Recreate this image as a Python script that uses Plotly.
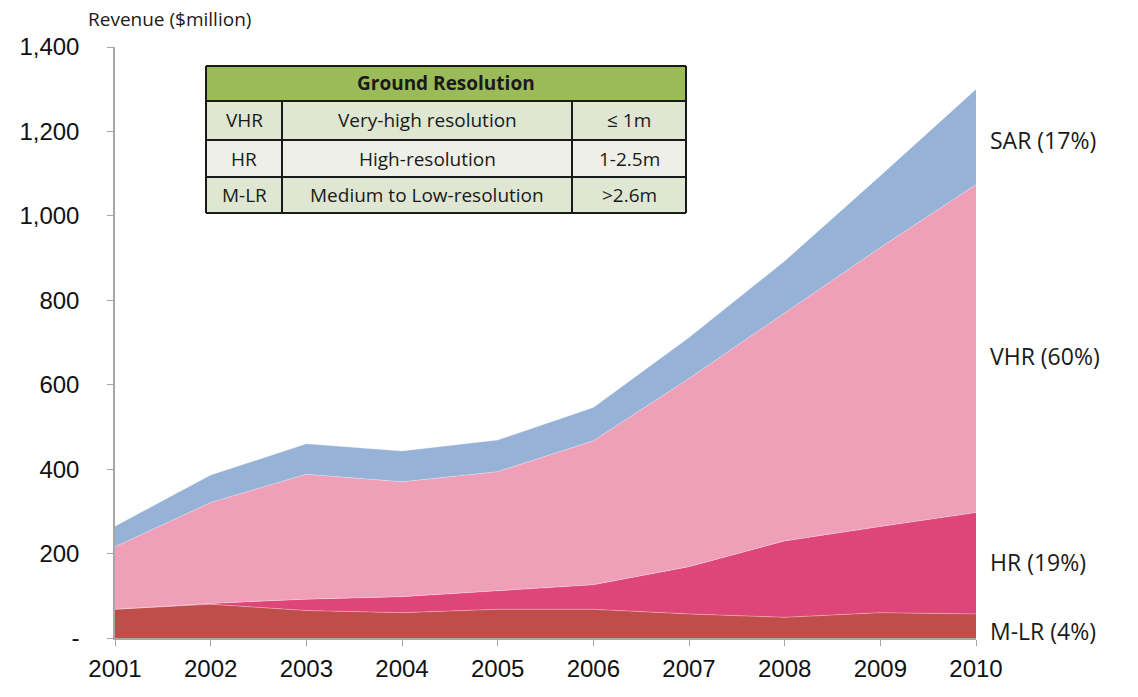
import plotly.graph_objects as go

years = [2001, 2002, 2003, 2004, 2005, 2006, 2007, 2008, 2009, 2010]
mlr = [68, 80, 65, 60, 68, 68, 57, 49, 60, 57]
hr = [0, 2, 27, 38, 44, 58, 112, 181, 204, 240]
vhr = [148, 239, 296, 272, 282, 341, 446, 540, 661, 777]
sar = [49, 65, 72, 73, 75, 79, 97, 123, 170, 226]

series_names = ["M-LR", "HR", "VHR", "SAR"]
series_vals = [mlr, hr, vhr, sar]
colors = ["#BF4E4B", "#DE4578", "#EF9FB8", "#96B2D6"]
end_labels = ["M-LR (4%)", "HR (19%)", "VHR (60%)", "SAR (17%)"]
label_y = [17, 180, 668, 1180]

yticks = [0, 200, 400, 600, 800, 1000, 1200, 1400]
yticktext = ["-", "200", "400", "600", "800", "1,000", "1,200", "1,400"]

table_header = "Ground Resolution"
table_rows = [
    ["VHR", "Very-high resolution", "\u2264 1m"],
    ["HR", "High-resolution", "1-2.5m"],
    ["M-LR", "Medium to Low-resolution", ">2.6m"],
]

W, H = 1138, 697
L, R, T, B = 115, 976, 47, 638

fig = go.Figure()
for name, vals, col in zip(series_names, series_vals, colors):
    fig.add_trace(go.Scatter(
        x=years, y=vals, name=name, mode="lines",
        stackgroup="one", line=dict(width=0.6, color="rgba(255,255,255,0.5)"),
        fillcolor=col, hoverinfo="x+y+name",
    ))

font_txt = "Open Sans, Noto Sans CJK KR, sans-serif"
font_num = "Liberation Sans, Arial, sans-serif"

def px(xp):
    return (xp - L) / (R - L)

def py(yp):
    return (B - yp) / (B - T)

shapes = []
annotations = []
tx0, tx1 = 206, 686
cols = [206, 282, 572, 686]
rows = [66, 101, 140, 177, 213]
fills = ["#9BBB59", "#DFE6D2", "#EEF0E8", "#DFE6D2"]
for i in range(4):
    shapes.append(dict(type="rect", xref="paper", yref="paper",
                       x0=px(tx0), x1=px(tx1), y0=py(rows[i + 1]), y1=py(rows[i]),
                       fillcolor=fills[i], line=dict(width=0), layer="above"))
for yy in rows:
    shapes.append(dict(type="line", xref="paper", yref="paper",
                       x0=px(tx0), x1=px(tx1), y0=py(yy), y1=py(yy),
                       line=dict(color="#1a1a1a", width=2), layer="above"))
for j, xx in enumerate(cols):
    top = rows[0] if j in (0, 3) else rows[1]
    shapes.append(dict(type="line", xref="paper", yref="paper",
                       x0=px(xx), x1=px(xx), y0=py(rows[-1]), y1=py(top),
                       line=dict(color="#1a1a1a", width=2), layer="above"))

annotations.append(dict(xref="paper", yref="paper", x=px((tx0 + tx1) / 2), y=py((rows[0] + rows[1]) / 2),
                        text="<b>" + table_header + "</b>", showarrow=False,
                        font=dict(family=font_txt, size=19, color="#1a1a1a"), xanchor="center", yanchor="middle"))
for i, row in enumerate(table_rows):
    yc = py((rows[i + 1] + rows[i + 2]) / 2)
    for j, txt in enumerate(row):
        xc = px((cols[j] + cols[j + 1]) / 2)
        annotations.append(dict(xref="paper", yref="paper", x=xc, y=yc, text=txt, showarrow=False,
                                font=dict(family=font_txt, size=19, color="#1a1a1a"),
                                xanchor="center", yanchor="middle"))

for lab, yv in zip(end_labels, label_y):
    annotations.append(dict(xref="paper", yref="y", x=px(988), y=yv, text=lab, showarrow=False,
                            font=dict(family=font_txt, size=23, color="#1a1a1a"),
                            xanchor="left", yanchor="middle"))

annotations.append(dict(xref="paper", yref="paper", x=px(86), y=py(19), text="Revenue ($million)",
                        showarrow=False, font=dict(family=font_txt, size=19, color="#1a1a1a"),
                        xanchor="left", yanchor="middle"))

fig.update_layout(
    width=W, height=H,
    margin=dict(l=L, r=W - R, t=T, b=H - B),
    plot_bgcolor="white", paper_bgcolor="white",
    showlegend=False,
    shapes=shapes, annotations=annotations,
    xaxis=dict(range=[2001, 2010], tickvals=years, ticktext=[str(y) for y in years],
               showgrid=False, zeroline=False, showline=True, linecolor="#A6A6A6", linewidth=1.5,
               ticks="outside", ticklen=6, tickcolor="#A6A6A6",
               tickfont=dict(family=font_num, size=24, color="#111"), ticklabelstandoff=2),
    yaxis=dict(range=[0, 1400], tickvals=yticks, ticktext=yticktext,
               showgrid=False, zeroline=False, showline=True, linecolor="#A6A6A6", linewidth=1.5,
               ticks="outside", ticklen=6, tickcolor="#A6A6A6",
               tickfont=dict(family=font_num, size=24, color="#111"), ticklabelstandoff=23),
)

fig.write_html("out.html")
